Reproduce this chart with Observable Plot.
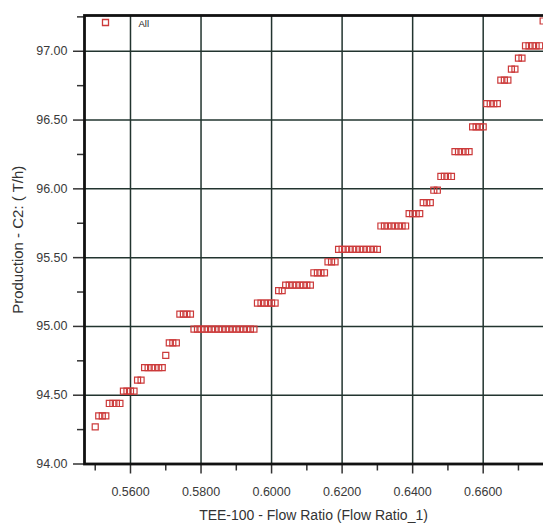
<!DOCTYPE html>
<html><head><meta charset="utf-8">
<script src="https://cdn.jsdelivr.net/npm/d3@7"></script>
<script src="https://cdn.jsdelivr.net/npm/@observablehq/plot@0.6"></script>
<style>
html,body{margin:0;padding:0;background:#fff;overflow:hidden}
#wrap{position:relative;width:543px;height:525px;overflow:hidden}
#wrap svg{max-width:none !important}
</style>
</head><body><div id="wrap"></div>
<script>
const flowRatio = [
  0.550,0.551,0.552,0.553,0.554,0.555,0.556,0.557,0.558,0.559,
  0.560,0.561,0.562,0.563,0.564,0.565,0.566,0.567,0.568,0.569,
  0.570,0.571,0.572,0.573,0.574,0.575,0.576,0.577,0.578,0.579,
  0.580,0.581,0.582,0.583,0.584,0.585,0.586,0.587,0.588,0.589,
  0.590,0.591,0.592,0.593,0.594,0.595,0.596,0.597,0.598,0.599,
  0.600,0.601,0.602,0.603,0.604,0.605,0.606,0.607,0.608,0.609,
  0.610,0.611,0.612,0.613,0.614,0.615,0.616,0.617,0.618,0.619,
  0.620,0.621,0.622,0.623,0.624,0.625,0.626,0.627,0.628,0.629,
  0.630,0.631,0.632,0.633,0.634,0.635,0.636,0.637,0.638,0.639,
  0.640,0.641,0.642,0.643,0.644,0.645,0.646,0.647,0.648,0.649,
  0.650,0.651,0.652,0.653,0.654,0.655,0.656,0.657,0.658,0.659,
  0.660,0.661,0.662,0.663,0.664,0.665,0.666,0.667,0.668,0.669,
  0.670,0.671,0.672,0.673,0.674,0.675,0.676,0.677
];
const production = [
  94.27,94.35,94.35,94.35,94.44,94.44,94.44,94.44,94.53,94.53,
  94.53,94.53,94.61,94.61,94.70,94.70,94.70,94.70,94.70,94.70,
  94.79,94.88,94.88,94.88,95.09,95.09,95.09,95.09,94.98,94.98,
  94.98,94.98,94.98,94.98,94.98,94.98,94.98,94.98,94.98,94.98,
  94.98,94.98,94.98,94.98,94.98,94.98,95.17,95.17,95.17,95.17,
  95.17,95.17,95.26,95.26,95.30,95.30,95.30,95.30,95.30,95.30,
  95.30,95.30,95.39,95.39,95.39,95.39,95.47,95.47,95.47,95.56,
  95.56,95.56,95.56,95.56,95.56,95.56,95.56,95.56,95.56,95.56,
  95.56,95.73,95.73,95.73,95.73,95.73,95.73,95.73,95.73,95.82,
  95.82,95.82,95.82,95.90,95.90,95.90,95.99,95.99,96.09,96.09,
  96.09,96.09,96.27,96.27,96.27,96.27,96.27,96.45,96.45,96.45,
  96.45,96.62,96.62,96.62,96.62,96.79,96.79,96.79,96.87,96.87,
  96.95,96.95,97.04,97.04,97.04,97.04,97.04,97.22
];
const xTicks = [0.56, 0.58, 0.60, 0.62, 0.64, 0.66];
const xMinorTicks = [0.55, 0.57, 0.59, 0.61, 0.63, 0.65, 0.67];
const yTicks = [94.0, 94.5, 95.0, 95.5, 96.0, 96.5, 97.0];
const yMinorTicks = [94.25, 94.75, 95.25, 95.75, 96.25, 96.75, 97.25];
const seriesName = "All";
const xLabel = "TEE-100 - Flow Ratio (Flow Ratio_1)";
const yLabel = "Production - C2: ( T/h)";

const data = flowRatio.map((x, i) => ({x, y: production[i]}));
const red = "#cc3a3a";
const gridColor = "#22342f";

const chart = Plot.plot({
  width: 560,
  height: 525,
  marginLeft: 84,
  marginRight: 14,
  marginTop: 15,
  marginBottom: 61.5,
  style: {fontFamily: "'Liberation Sans', Arial, sans-serif", fontSize: "12.5px", color: "#333", background: "transparent", maxWidth: "none"},
  x: {domain: [0.54696, 0.67795]},
  y: {domain: [94, 97.26]},
  marks: [
    Plot.gridX(xTicks, {stroke: gridColor, strokeOpacity: 1, strokeWidth: 1.5}),
    Plot.gridY(yTicks, {stroke: gridColor, strokeOpacity: 1, strokeWidth: 1.5}),
    Plot.axisX(xTicks, {tickSize: 10, tickPadding: 13, tickFormat: d3.format(".4f"), label: null, strokeWidth: 1.5, fill: "#3a3a3a"}),
    Plot.axisX(xMinorTicks, {tickSize: 7, tickFormat: () => "", label: null, strokeWidth: 1.5}),
    Plot.axisY(yTicks, {tickSize: 11, tickPadding: 6, tickFormat: d3.format(".2f"), label: null, strokeWidth: 1.5, fill: "#3a3a3a"}),
    Plot.axisY(yMinorTicks, {tickSize: 7, tickFormat: () => "", label: null, strokeWidth: 1.5}),
    Plot.frame({stroke: "#111", strokeWidth: 2.8}),
    Plot.dot(data, {x: "x", y: "y", symbol: "square", r: 3.4, stroke: red, strokeWidth: 1.2, fill: "none"}),
    Plot.dot([seriesName], {frameAnchor: "top-left", dx: 21, dy: 7, symbol: "square", r: 3.4, stroke: red, strokeWidth: 1.3, fill: "none"}),
    Plot.text([seriesName], {text: d => d, frameAnchor: "top-left", dx: 54, dy: 8, textAnchor: "start", lineAnchor: "middle", fontSize: 9.5, fill: "#222"}),
    Plot.text([xLabel], {text: d => d, frameAnchor: "bottom", dx: -2, dy: 51.5, textAnchor: "middle", lineAnchor: "middle", fontSize: 14, fill: "#333"}),
    Plot.text([yLabel], {text: d => d, frameAnchor: "left", dx: -66, rotate: -90, textAnchor: "middle", lineAnchor: "middle", fontSize: 15, fill: "#333"})
  ]
});
chart.style.maxWidth = "none";
document.getElementById("wrap").appendChild(chart);
</script>
</body></html>
